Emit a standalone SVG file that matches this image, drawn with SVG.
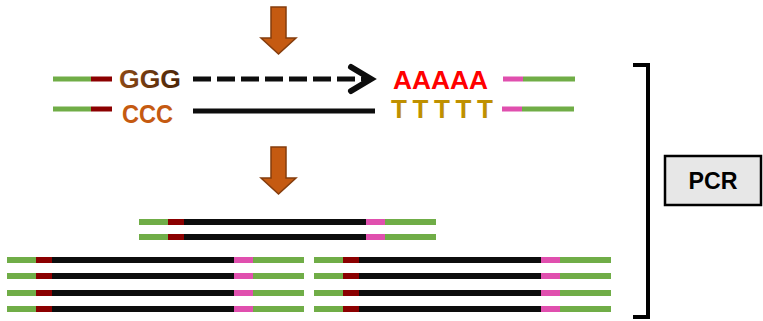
<svg xmlns="http://www.w3.org/2000/svg" width="763" height="321" viewBox="0 0 763 321">
<defs>
<style>
.g{fill:#70AD47}.r{fill:#8B0000}.p{fill:#E04FAE}.k{fill:#0d0d0d}
.arrow{fill:#C55A11;stroke:#843C0C;stroke-width:1.5;stroke-linejoin:miter}
.t{font-family:"Liberation Sans",Arial,sans-serif;font-weight:bold;font-size:26px}
</style>
<linearGradient id="gg" x1="0" y1="0" x2="1" y2="0">
<stop offset="0" stop-color="#8E4A16"/><stop offset="1" stop-color="#4A2508"/>
</linearGradient>
<g id="strand6">
<rect class="g" x="0" y="-3" width="29" height="6"/>
<rect class="r" x="29" y="-3" width="16" height="6"/>
<rect class="k" x="45" y="-3" width="182" height="6"/>
<rect class="p" x="227" y="-3" width="19" height="6"/>
<rect class="g" x="246" y="-3" width="51" height="6"/>
</g>
<path id="downArrow" class="arrow" d="M271,7 H286 V38 H296 L278.5,54 L261,38 H271 Z"/>
</defs>

<g id="arrow-top"><use href="#downArrow"/></g>
<g id="arrow-mid"><use href="#downArrow" transform="translate(0,140)"/></g>

<g id="primer-forward">
<rect class="g" x="53" y="76.5" width="38" height="5"/>
<rect class="r" x="91" y="76.5" width="21" height="5"/>
<text class="t" x="119" y="88" fill="url(#gg)" font-size="27" textLength="62" lengthAdjust="spacingAndGlyphs">GGG</text>
</g>
<g id="primer-reverse-left">
<rect class="g" x="53" y="106.5" width="38" height="5"/>
<rect class="r" x="91" y="106.5" width="21" height="5"/>
<text class="t" x="122" y="123" fill="#C55A11" font-size="28" textLength="51" lengthAdjust="spacingAndGlyphs">CCC</text>
</g>
<g id="right-top">
<text class="t" x="393" y="89" fill="#FF0000" textLength="95" lengthAdjust="spacingAndGlyphs">AAAAA</text>
<rect class="p" x="503" y="76.5" width="20" height="5"/>
<rect class="g" x="523" y="76.5" width="52" height="5"/>
</g>
<g id="right-bottom">
<text class="t" x="391" y="118" fill="#BF9000" textLength="102" lengthAdjust="spacing">TTTTT</text>
<rect class="p" x="502" y="106.5" width="20" height="5"/>
<rect class="g" x="522" y="106.5" width="52" height="5"/>
</g>

<g id="connectors">
<line x1="193" y1="79" x2="366" y2="79" stroke="#0d0d0d" stroke-width="5" stroke-dasharray="18,6"/>
<polyline points="351,67 371,79 351,91" fill="none" stroke="#0d0d0d" stroke-width="6" stroke-linecap="round" stroke-linejoin="miter"/>
<line x1="193" y1="111" x2="375" y2="111" stroke="#0d0d0d" stroke-width="5"/>
</g>

<g id="pcr-product-1">
<use href="#strand6" x="139" y="222"/>
<use href="#strand6" x="139" y="237"/>
</g>
<g id="pcr-products-left">
<use href="#strand6" x="7" y="260"/>
<use href="#strand6" x="7" y="276"/>
<use href="#strand6" x="7" y="293"/>
<use href="#strand6" x="7" y="309"/>
</g>
<g id="pcr-products-right">
<use href="#strand6" x="314" y="260"/>
<use href="#strand6" x="314" y="276"/>
<use href="#strand6" x="314" y="293"/>
<use href="#strand6" x="314" y="309"/>
</g>

<g id="bracket">
<polyline points="633,65 648,65 648,317 633,317" fill="none" stroke="#000" stroke-width="4"/>
</g>
<g id="pcr-box">
<rect x="665" y="156" width="96" height="49" fill="#E7E7E7" stroke="#000" stroke-width="2.5"/>
<text x="713" y="189" text-anchor="middle" font-family="'Liberation Sans',Arial,sans-serif" font-weight="bold" font-size="24" fill="#000" textLength="49" lengthAdjust="spacingAndGlyphs">PCR</text>
</g>
</svg>
